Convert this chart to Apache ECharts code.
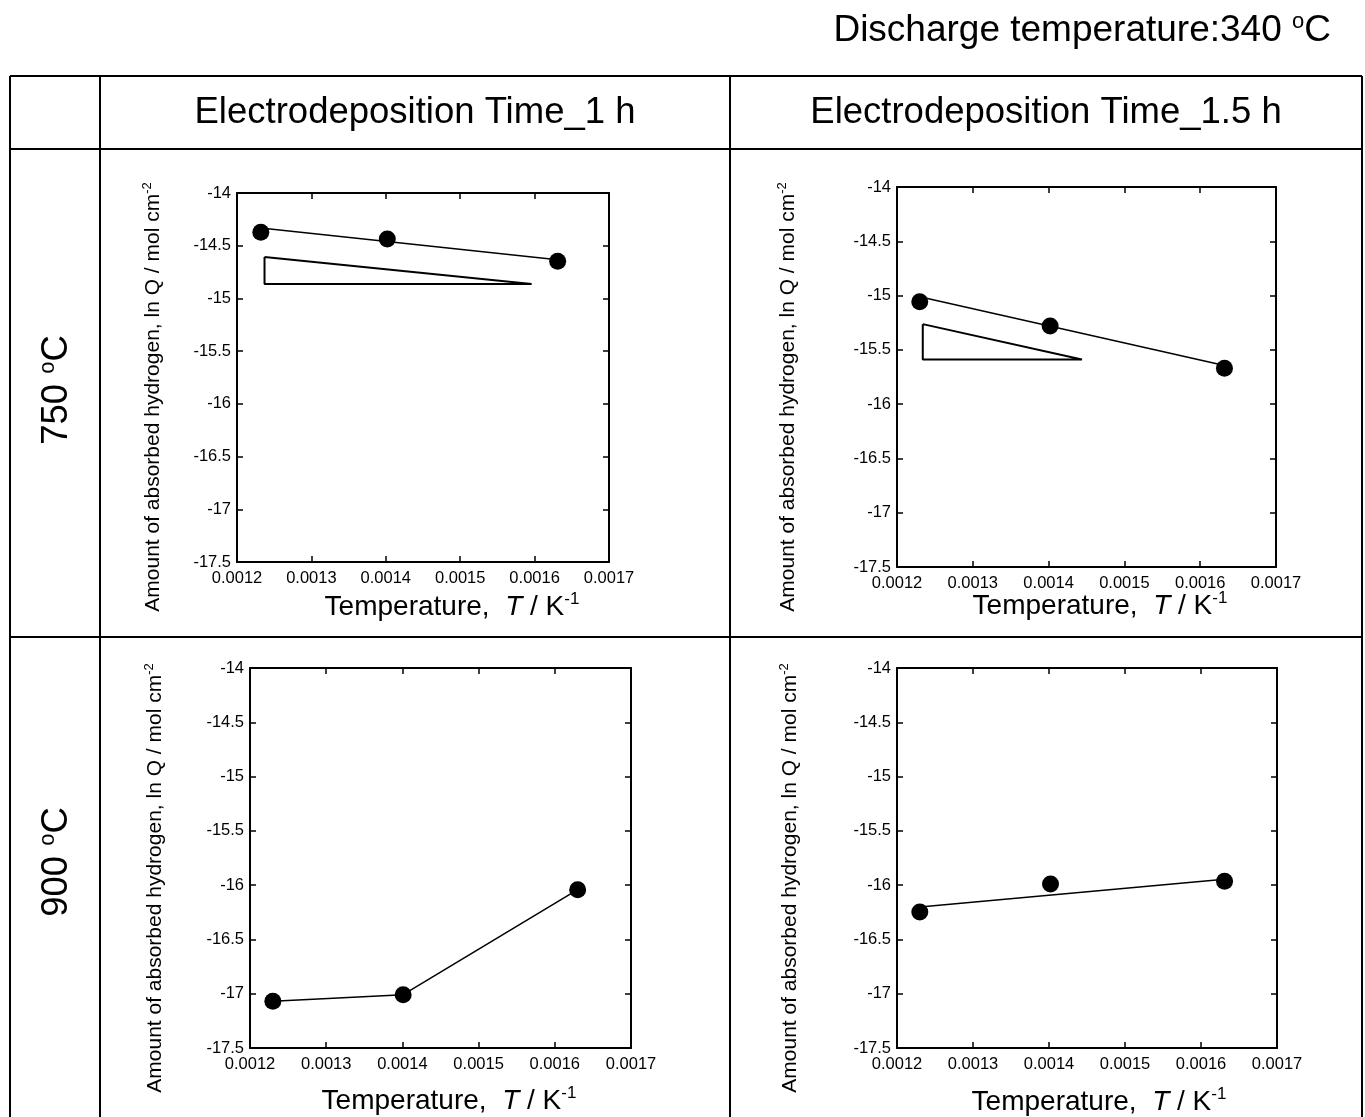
<!DOCTYPE html>
<html>
<head>
<meta charset="utf-8">
<script src="https://cdn.jsdelivr.net/npm/echarts@6/dist/echarts.min.js"></script>
<style>html,body{margin:0;padding:0;background:#fff}#c{width:1365px;height:1117px}</style>
</head>
<body>
<div id="c"></div>
<script>
// ---- data ----
const xMin = 0.0012, xMax = 0.0017, xStep = 0.0001;
const yMin = -17.5, yMax = -14, yStep = 0.5;

// 750 C, 1 h
const tlX = [0.001232, 0.001402, 0.001631];
const tlY = [-14.373, -14.436, -14.648];
const tlFitX = [0.001232, 0.001631];
const tlFitY = [-14.332, -14.632];
const tlTriX = [0.001237, 0.001237, 0.001596, 0.001237];
const tlTriY = [-14.607, -14.863, -14.863, -14.607];

// 750 C, 1.5 h
const trX = [0.00123, 0.001402, 0.001632];
const trY = [-15.057, -15.281, -15.670];
const trFitX = [0.00123, 0.001632];
const trFitY = [-15.011, -15.645];
const trTriX = [0.001234, 0.001234, 0.001444, 0.001234];
const trTriY = [-15.263, -15.588, -15.588, -15.263];

// 900 C, 1 h
const blX = [0.00123, 0.001401, 0.00163];
const blY = [-17.070, -17.009, -16.042];

// 900 C, 1.5 h
const brX = [0.00123, 0.001402, 0.001631];
const brY = [-16.247, -15.990, -15.965];
const brFitX = [0.00123, 0.001631];
const brFitY = [-16.201, -15.946];

const colTitles = ['Electrodeposition Time_1 h', 'Electrodeposition Time_1.5 h'];
const rowTitles = ['750 ', '900 '];
const yTitle = 'Amount of absorbed hydrogen, ln Q / mol cm';
const topNote = 'Discharge temperature:340 ';

// ---- build ----
const F = '"Liberation Sans", Arial, Helvetica, sans-serif';
const zip = (xs, ys) => xs.map((x, i) => [x, ys[i]]);

const grids = [
  {left: 237, top: 193, width: 372, height: 369},
  {left: 897, top: 187, width: 379, height: 380},
  {left: 250, top: 668, width: 381, height: 380},
  {left: 897, top: 668, width: 380, height: 380}
];

const xAxes = [], yAxes = [], series = [];
grids.forEach((g, i) => {
  const common = {
    gridIndex: i, type: 'value',
    axisLine: {show: true, onZero: false, lineStyle: {color: '#000', width: 2}},
    axisTick: {show: true, inside: true, length: 6, lineStyle: {color: '#000', width: 1.5}},
    splitLine: {show: false}
  };
  xAxes.push(Object.assign({}, common, {
    position: 'bottom', min: xMin, max: xMax, interval: xStep,
    axisLabel: {color: '#000', fontSize: 16.5, fontFamily: F, margin: 8,
      formatter: v => v.toFixed(4)}
  }));
  xAxes.push(Object.assign({}, common, {
    position: 'top', min: xMin, max: xMax, interval: xStep, axisLabel: {show: false}
  }));
  yAxes.push(Object.assign({}, common, {
    position: 'left', min: yMin, max: yMax, interval: yStep,
    axisLabel: {color: '#000', fontSize: 16.5, fontFamily: F, margin: 6}
  }));
  yAxes.push(Object.assign({}, common, {
    position: 'right', min: yMin, max: yMax, interval: yStep, axisLabel: {show: false}
  }));
});

function lineSeries(i, data, w) {
  return {type: 'line', xAxisIndex: 2 * i, yAxisIndex: 2 * i, data: data,
    symbol: 'none', silent: true, animation: false, z: 2,
    lineStyle: {color: '#000', width: w, opacity: 1}};
}
function dotSeries(i, data) {
  return {type: 'scatter', xAxisIndex: 2 * i, yAxisIndex: 2 * i, data: data,
    symbol: 'circle', symbolSize: 17, animation: false, z: 3,
    itemStyle: {color: '#000', opacity: 1}};
}
series.push(lineSeries(0, zip(tlFitX, tlFitY), 1.5));
series.push(lineSeries(0, zip(tlTriX, tlTriY), 2));
series.push(dotSeries(0, zip(tlX, tlY)));
series.push(lineSeries(1, zip(trFitX, trFitY), 1.5));
series.push(lineSeries(1, zip(trTriX, trTriY), 2));
series.push(dotSeries(1, zip(trX, trY)));
series.push(lineSeries(2, zip(blX, blY), 1.5));
series.push(dotSeries(2, zip(blX, blY)));
series.push(lineSeries(3, zip(brFitX, brFitY), 1.5));
series.push(dotSeries(3, zip(brX, brY)));

// ---- text & table ----
const gfx = [];
function hline(x1, x2, y) { gfx.push({type: 'line', shape: {x1, y1: y, x2, y2: y}, style: {stroke: '#000', lineWidth: 2}}); }
function vline(x, y1, y2) { gfx.push({type: 'line', shape: {x1: x, y1, x2: x, y2}, style: {stroke: '#000', lineWidth: 2}}); }
hline(10, 1362, 76); hline(10, 1362, 149); hline(10, 1362, 637);
vline(10, 76, 1117); vline(100, 76, 1117); vline(730, 76, 1117); vline(1362, 76, 1117);

function txt(x, y, text, rich, rot, align) {
  gfx.push({type: 'text', x, y, rotation: rot || 0, z: 10,
    style: {text, rich, align: align || 'center', verticalAlign: 'middle', fill: '#000', fontFamily: F}});
}
const bigRich = {
  a: {fontSize: 36.5, fontFamily: F, fill: '#000', lineHeight: 40},
  s: {fontSize: 22, fontFamily: F, fill: '#000', lineHeight: 22, verticalAlign: 'top'}
};
const noteRich = {
  a: {fontSize: 37, fontFamily: F, fill: '#000', lineHeight: 40},
  s: {fontSize: 22, fontFamily: F, fill: '#000', lineHeight: 22, verticalAlign: 'top'}
};
txt(1331, 31, '{a|' + topNote + '}{s|o}{a|C}', noteRich, 0, 'right');
txt(415, 113, '{a|' + colTitles[0] + '}', bigRich);
txt(1046, 113, '{a|' + colTitles[1] + '}', bigRich);
txt(57, 390, '{a|' + rowTitles[0] + '}{s|o}{a|C}', bigRich, Math.PI / 2);
txt(57, 862, '{a|' + rowTitles[1] + '}{s|o}{a|C}', bigRich, Math.PI / 2);

const yRich = {
  a: {fontSize: 21, fontFamily: F, fill: '#000', lineHeight: 25},
  s: {fontSize: 13, fontFamily: F, fill: '#000', lineHeight: 13, verticalAlign: 'top'}
};
const xRich = {
  a: {fontSize: 28, fontFamily: F, fill: '#000', lineHeight: 32},
  i: {fontSize: 28, fontFamily: F, fill: '#000', lineHeight: 32, fontStyle: 'italic'},
  s: {fontSize: 17, fontFamily: F, fill: '#000', lineHeight: 17, verticalAlign: 'top'}
};
const yT = '{a|' + yTitle + '}{s|-2}';
const xT = '{a|Temperature,  }{i|T}{a| / K}{s|-1}';
[[153, 397], [788, 397], [155, 878], [790, 878]].forEach(p => txt(p[0], p[1], yT, yRich, Math.PI / 2));
[[452, 607], [1100, 606], [449, 1101], [1099, 1102]].forEach(p => txt(p[0], p[1], xT, xRich));

const chart = echarts.init(document.getElementById('c'), null, {renderer: 'canvas'});
chart.setOption({
  backgroundColor: '#fff',
  animation: false,
  grid: grids,
  xAxis: xAxes,
  yAxis: yAxes,
  series: series,
  graphic: gfx
});
</script>
</body>
</html>
